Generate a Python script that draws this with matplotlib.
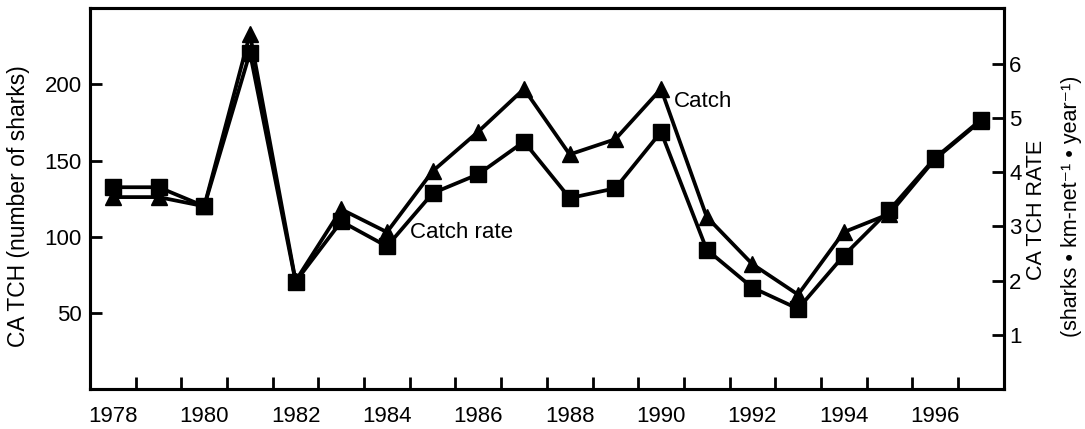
import matplotlib
matplotlib.use("Agg")
import matplotlib.pyplot as plt
import numpy as np

plt.rcParams["font.family"] = ["Liberation Sans", "DejaVu Sans"]

years = list(range(1978, 1998))
catch = [126, 126, 120, 233, 71, 118, 103, 143, 169, 197,
         154, 164, 197, 113, 82, 62, 103, 115, 151, 176]
catch_rate = [3.72, 3.72, 3.37, 6.20, 1.98, 3.09, 2.63, 3.61, 3.96, 4.56,
              3.52, 3.70, 4.74, 2.57, 1.87, 1.48, 2.46, 3.30, 4.26, 4.96]

year_labels = list(range(1978, 1997, 2))
left_ticks = [50, 100, 150, 200]
right_ticks = [1, 2, 3, 4, 5, 6]

fig = plt.figure(figsize=(10.85, 4.29), dpi=100)
ax = fig.add_axes([0.083, 0.093, 0.842, 0.888])

ax.plot(years, catch, color="black", lw=2.7, marker="^", ms=11, zorder=3)
ax.set_xlim(1977.5, 1997.5)
ax.set_ylim(0, 250)

ax.set_xticks(year_labels)
ax.set_xticklabels([str(y) for y in year_labels], fontsize=16)
ax.set_xticks(np.arange(1978.5, 1997, 1.0), minor=True)
ax.tick_params(axis="x", which="major", length=0, pad=12)
ax.tick_params(axis="x", which="minor", direction="in", length=8.5, width=2)

ax.set_yticks(left_ticks)
ax.set_yticklabels([str(v) for v in left_ticks], fontsize=16)
ax.tick_params(axis="y", direction="in", length=8.5, width=2, pad=6)
ax.set_ylabel("CA TCH (number of sharks)", fontsize=16.5)
ax.yaxis.set_label_coords(-0.066, 0.48)

for s in ax.spines.values():
    s.set_linewidth(2.2)

ax2 = ax.twinx()
ax2.plot(years, catch_rate, color="black", lw=2.7, marker="s", ms=11, zorder=3)
ax2.set_ylim(0, 7.02)
ax2.set_yticks(right_ticks)
ax2.set_yticklabels([str(v) for v in right_ticks], fontsize=16)
ax2.tick_params(axis="y", direction="in", length=8.5, width=2, pad=4)
for s in ax2.spines.values():
    s.set_linewidth(2.2)

ax.text(1990.28, 189, "Catch", fontsize=16, va="center", ha="left")
ax.text(1984.5, 103, "Catch rate", fontsize=16, va="center", ha="left")

fig.text(0.955, 0.51, "CA TCH RATE", rotation=90, fontsize=15.5,
         ha="center", va="center")
fig.text(0.988, 0.52, "(sharks \u2022 km-net\u207b\u00b9 \u2022 year\u207b\u00b9)",
         rotation=90, fontsize=15.5, ha="center", va="center")

fig.savefig("out.png", dpi=100)
